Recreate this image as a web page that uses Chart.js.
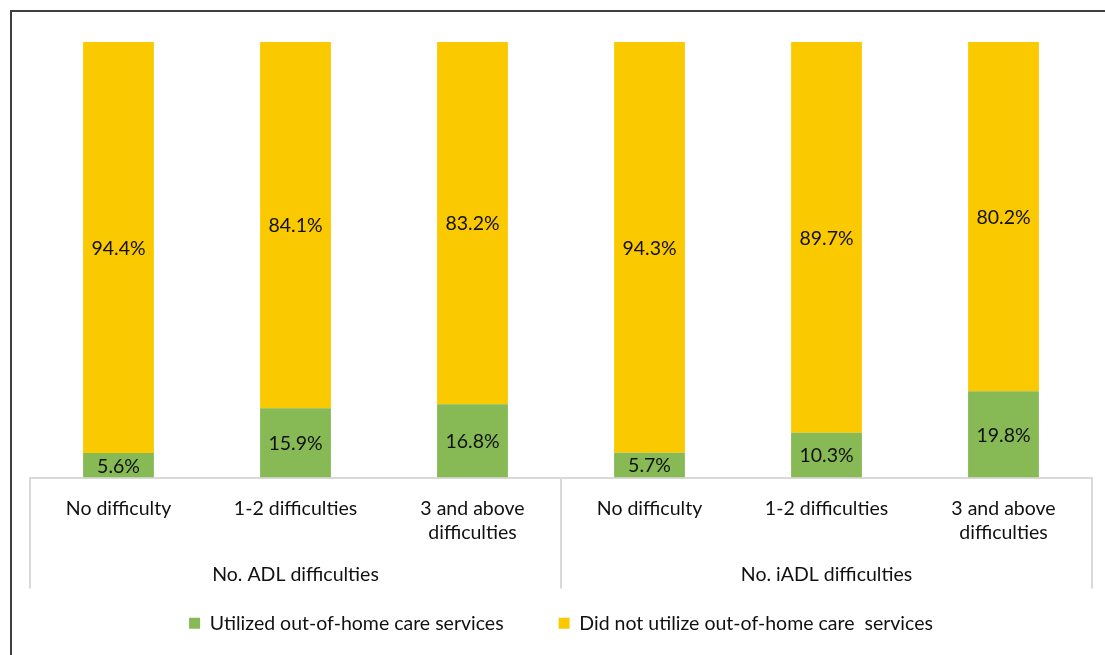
<!DOCTYPE html>
<html>
<head>
<meta charset="utf-8">
<script src="https://cdn.jsdelivr.net/npm/chart.js@4"></script>
<style>
  body { margin: 0; background: #fff; }
  #wrap { position: relative; width: 1105px; height: 655px; }
  #frame {
    position: absolute; left: 10px; top: 10px; right: 0; bottom: 0;
    border-left: 2px solid #3f3f3f; border-top: 2px solid #3f3f3f;
    pointer-events: none;
  }
</style>
</head>
<body>
<div id="wrap">
  <canvas id="myChart" width="1105" height="655"></canvas>
  <div id="frame"></div>
</div>
<script>
    const categories = [
        ['No difficulty'],
        ['1-2 difficulties'],
        ['3 and above', 'difficulties'],
        ['No difficulty'],
        ['1-2 difficulties'],
        ['3 and above', 'difficulties']
    ]
    const groups = ['No. ADL difficulties', 'No. iADL difficulties']
    const utilized = [5.6, 15.9, 16.8, 5.7, 10.3, 19.8]
    const notUtilized = [94.4, 84.1, 83.2, 94.3, 89.7, 80.2]

    const FONT = 'Lato'
    const SIZE = 19.5

    // value text in the middle of every bar segment
    const segmentLabels = {
        id: 'segmentLabels',
        afterDatasetsDraw(chart) {
            const ctx = chart.ctx
            ctx.save()
            ctx.font = `${SIZE}px ${FONT}`
            ctx.fillStyle = '#111'
            ctx.textAlign = 'center'
            ctx.textBaseline = 'middle'
            chart.data.datasets.forEach((ds, i) => {
                chart.getDatasetMeta(i).data.forEach((bar, j) => {
                    const y = (bar.y + bar.base) / 2
                    ctx.fillText(ds.data[j].toFixed(1) + '%', bar.x, y + 1)
                })
            })
            ctx.restore()
        }
    }

    // second level of the category axis: group names and separators
    const groupAxis = {
        id: 'groupAxis',
        afterDraw(chart) {
            const ctx = chart.ctx
            const x = chart.scales.x
            const top = chart.chartArea.bottom
            const bottom = top + 111
            ctx.save()
            ctx.strokeStyle = '#d9d9d9'
            ctx.lineWidth = 2
            ;[-0.5, 2.5, 5.5].forEach(v => {
                const px = Math.round(x.getPixelForValue(v))
                ctx.beginPath()
                ctx.moveTo(px, top)
                ctx.lineTo(px, bottom)
                ctx.stroke()
            })
            ctx.font = `${SIZE}px ${FONT}`
            ctx.fillStyle = '#111'
            ctx.textAlign = 'center'
            ctx.textBaseline = 'middle'
            groups.forEach((g, i) => {
                ctx.fillText(g, x.getPixelForValue(i * 3 + 1), top + 97)
            })
            ctx.restore()
        }
    }

    const ctx = document.getElementById('myChart').getContext('2d')

    const chart = new Chart(ctx, {
        type: 'bar',
        data: {
            labels: categories,
            datasets: [{
                label: 'Utilized out-of-home care services',
                data: utilized,
                backgroundColor: '#87b955'
            }, {
                label: 'Did not utilize out-of-home care  services',
                data: notUtilized,
                backgroundColor: '#fac900'
            }]
        },
        options: {
            responsive: false,
            animation: false,
            barPercentage: 0.4,
            categoryPercentage: 1.0,
            layout: {
                padding: { left: 30, right: 13, top: 42, bottom: 12 }
            },
            scales: {
                x: {
                    stacked: true,
                    grid: { display: false },
                    border: { color: '#d9d9d9', width: 2 },
                    ticks: {
                        color: '#111',
                        font: { family: FONT, size: SIZE, lineHeight: 1.25 },
                        padding: 11,
                        maxRotation: 0
                    },
                    afterFit(scale) { scale.height = 81 }
                },
                y: {
                    stacked: true,
                    display: false,
                    min: 0,
                    max: 100
                }
            },
            plugins: {
                legend: {
                    position: 'bottom',
                    labels: {
                        color: '#111',
                        font: { family: FONT, size: SIZE },
                        boxWidth: 11,
                        boxHeight: 11,
                        padding: 55
                    }
                },
                tooltip: { enabled: false }
            }
        },
        plugins: [segmentLabels, groupAxis]
    })
</script>
</body>
</html>
